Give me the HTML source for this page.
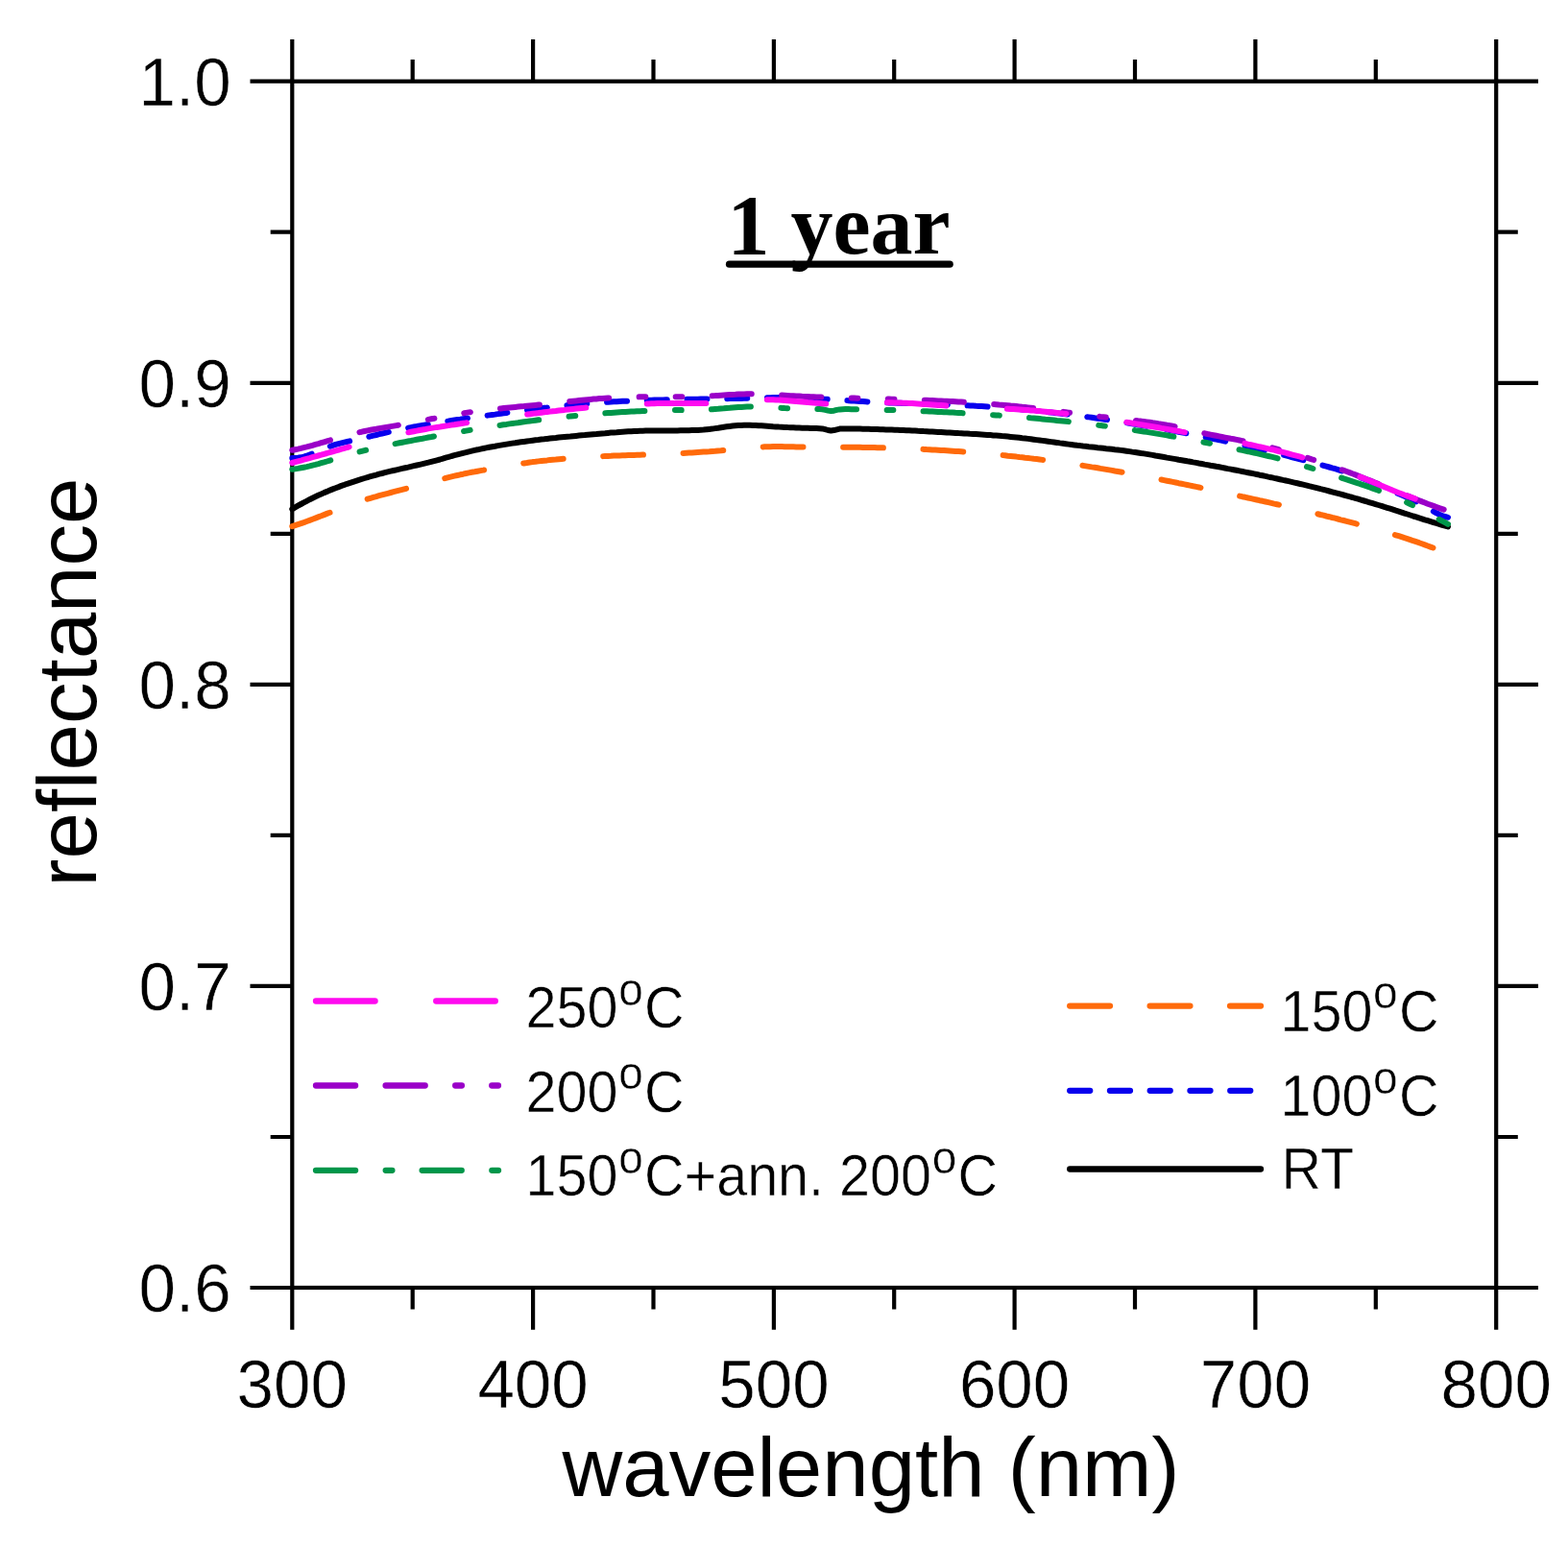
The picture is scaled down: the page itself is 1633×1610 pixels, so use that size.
<!DOCTYPE html>
<html lang="en">
<head>
<meta charset="utf-8">
<title>Reflectance vs wavelength - 1 year</title>
<style>
html,body{margin:0;padding:0;background:#ffffff;}
body{width:1633px;height:1610px;overflow:hidden;}
svg{display:block;}
</style>
</head>
<body>
<svg width="1633" height="1610" viewBox="0 0 1633 1610">
<rect x="0" y="0" width="1633" height="1610" fill="#ffffff"/>
<g stroke="#000" stroke-width="4.2" fill="none" stroke-linecap="butt">
<rect x="304.3" y="84.7" width="1253.9" height="1256.3"/>
<path d="M304.3,40.9 V84.7 M304.3,1341.0 V1384.8"/>
<path d="M555.1,40.9 V84.7 M555.1,1341.0 V1384.8"/>
<path d="M805.9,40.9 V84.7 M805.9,1341.0 V1384.8"/>
<path d="M1056.6,40.9 V84.7 M1056.6,1341.0 V1384.8"/>
<path d="M1307.4,40.9 V84.7 M1307.4,1341.0 V1384.8"/>
<path d="M1558.2,40.9 V84.7 M1558.2,1341.0 V1384.8"/>
<path d="M429.7,62.1 V84.7 M429.7,1341.0 V1363.6"/>
<path d="M680.5,62.1 V84.7 M680.5,1341.0 V1363.6"/>
<path d="M931.2,62.1 V84.7 M931.2,1341.0 V1363.6"/>
<path d="M1182.0,62.1 V84.7 M1182.0,1341.0 V1363.6"/>
<path d="M1432.8,62.1 V84.7 M1432.8,1341.0 V1363.6"/>
<path d="M260.5,84.7 H304.3 M1558.2,84.7 H1602.0"/>
<path d="M260.5,398.8 H304.3 M1558.2,398.8 H1602.0"/>
<path d="M260.5,712.9 H304.3 M1558.2,712.9 H1602.0"/>
<path d="M260.5,1026.9 H304.3 M1558.2,1026.9 H1602.0"/>
<path d="M260.5,1341.0 H304.3 M1558.2,1341.0 H1602.0"/>
<path d="M281.7,241.7 H304.3 M1558.2,241.7 H1580.8"/>
<path d="M281.7,555.8 H304.3 M1558.2,555.8 H1580.8"/>
<path d="M281.7,869.9 H304.3 M1558.2,869.9 H1580.8"/>
<path d="M281.7,1184.0 H304.3 M1558.2,1184.0 H1580.8"/>
</g>
<g fill="none" stroke-width="6.0" stroke-linecap="round" stroke-linejoin="round">
<path d="M304.3,530.2 L307.3,528.4 L310.3,526.7 L313.4,525.0 L316.4,523.4 L319.4,521.8 L322.4,520.2 L325.4,518.7 L328.4,517.3 L331.5,515.8 L334.5,514.5 L337.5,513.1 L340.5,511.9 L343.5,510.6 L346.5,509.4 L349.6,508.2 L352.6,507.1 L355.6,505.9 L358.6,504.9 L361.6,503.8 L364.6,502.8 L367.7,501.8 L370.7,500.8 L373.7,499.8 L376.7,498.9 L379.7,498.0 L382.7,497.1 L385.8,496.2 L388.8,495.4 L391.8,494.6 L394.8,493.7 L397.8,493.0 L400.8,492.2 L403.9,491.4 L406.9,490.7 L409.9,490.0 L412.9,489.3 L415.9,488.6 L418.9,487.9 L422.0,487.2 L425.0,486.6 L428.0,485.9 L431.0,485.2 L434.0,484.5 L437.0,483.8 L440.1,483.1 L443.1,482.4 L446.1,481.7 L449.1,480.9 L452.1,480.1 L455.1,479.3 L458.2,478.5 L461.2,477.6 L464.2,476.7 L467.2,475.9 L470.2,475.0 L473.2,474.2 L476.3,473.4 L479.3,472.6 L482.3,471.8 L485.3,471.1 L488.3,470.3 L491.3,469.6 L494.4,468.9 L497.4,468.3 L500.4,467.6 L503.4,467.0 L506.4,466.4 L509.4,465.8 L512.5,465.2 L515.5,464.7 L518.5,464.1 L521.5,463.6 L524.5,463.1 L527.6,462.6 L530.6,462.1 L533.6,461.6 L536.6,461.2 L539.6,460.7 L542.6,460.3 L545.7,459.9 L548.7,459.5 L551.7,459.1 L554.7,458.7 L557.7,458.3 L560.7,458.0 L563.8,457.6 L566.8,457.3 L569.8,456.9 L572.8,456.6 L575.8,456.3 L578.8,456.0 L581.9,455.6 L584.9,455.3 L587.9,455.0 L590.9,454.7 L593.9,454.5 L596.9,454.2 L600.0,453.9 L603.0,453.6 L606.0,453.3 L609.0,453.1 L612.0,452.8 L615.0,452.5 L618.1,452.2 L621.1,452.0 L624.1,451.7 L627.1,451.4 L630.1,451.2 L633.1,450.9 L636.2,450.6 L639.2,450.4 L642.2,450.2 L645.2,449.9 L648.2,449.7 L651.2,449.5 L654.3,449.3 L657.3,449.2 L660.3,449.0 L663.3,448.9 L666.3,448.8 L669.3,448.7 L672.4,448.6 L675.4,448.5 L678.4,448.5 L681.4,448.5 L684.4,448.4 L687.4,448.4 L690.5,448.4 L693.5,448.4 L696.5,448.4 L699.5,448.4 L702.5,448.4 L705.5,448.4 L708.6,448.3 L711.6,448.3 L714.6,448.3 L717.6,448.2 L720.6,448.1 L723.6,448.0 L726.7,447.9 L729.7,447.7 L732.7,447.5 L735.7,447.2 L738.7,446.9 L741.8,446.6 L744.8,446.1 L747.8,445.7 L750.8,445.2 L753.8,444.7 L756.8,444.3 L759.9,443.9 L762.9,443.5 L765.9,443.2 L768.9,443.0 L771.9,442.9 L774.9,442.8 L778.0,442.8 L781.0,442.8 L784.0,442.9 L787.0,443.0 L790.0,443.2 L793.0,443.3 L796.1,443.5 L799.1,443.7 L802.1,443.9 L805.1,444.2 L808.1,444.4 L811.1,444.6 L814.2,444.7 L817.2,444.9 L820.2,445.1 L823.2,445.2 L826.2,445.3 L829.2,445.5 L832.3,445.6 L835.3,445.7 L838.3,445.8 L841.3,445.8 L844.3,445.9 L847.3,446.0 L850.4,446.1 L853.4,446.2 L856.4,446.4 L859.4,447.1 L862.4,448.0 L865.4,448.5 L868.5,448.1 L871.5,447.3 L874.5,446.6 L877.5,446.4 L880.5,446.4 L883.5,446.4 L886.6,446.5 L889.6,446.5 L892.6,446.6 L895.6,446.6 L898.6,446.7 L901.6,446.7 L904.7,446.8 L907.7,446.9 L910.7,447.0 L913.7,447.1 L916.7,447.2 L919.7,447.3 L922.8,447.4 L925.8,447.5 L928.8,447.6 L931.8,447.7 L934.8,447.8 L937.8,448.0 L940.9,448.1 L943.9,448.2 L946.9,448.3 L949.9,448.5 L952.9,448.6 L956.0,448.8 L959.0,448.9 L962.0,449.1 L965.0,449.2 L968.0,449.4 L971.0,449.5 L974.1,449.7 L977.1,449.9 L980.1,450.0 L983.1,450.2 L986.1,450.4 L989.1,450.5 L992.2,450.7 L995.2,450.9 L998.2,451.1 L1001.2,451.2 L1004.2,451.4 L1007.2,451.6 L1010.3,451.8 L1013.3,451.9 L1016.3,452.1 L1019.3,452.3 L1022.3,452.5 L1025.3,452.7 L1028.4,452.9 L1031.4,453.1 L1034.4,453.4 L1037.4,453.6 L1040.4,453.8 L1043.4,454.1 L1046.5,454.3 L1049.5,454.6 L1052.5,454.9 L1055.5,455.2 L1058.5,455.5 L1061.5,455.8 L1064.6,456.2 L1067.6,456.5 L1070.6,456.9 L1073.6,457.3 L1076.6,457.7 L1079.6,458.1 L1082.7,458.5 L1085.7,458.9 L1088.7,459.3 L1091.7,459.7 L1094.7,460.1 L1097.7,460.5 L1100.8,460.9 L1103.8,461.4 L1106.8,461.8 L1109.8,462.2 L1112.8,462.6 L1115.8,463.0 L1118.9,463.4 L1121.9,463.8 L1124.9,464.1 L1127.9,464.5 L1130.9,464.8 L1133.9,465.2 L1137.0,465.5 L1140.0,465.8 L1143.0,466.2 L1146.0,466.5 L1149.0,466.8 L1152.0,467.2 L1155.1,467.5 L1158.1,467.8 L1161.1,468.2 L1164.1,468.5 L1167.1,468.9 L1170.2,469.3 L1173.2,469.7 L1176.2,470.1 L1179.2,470.6 L1182.2,471.0 L1185.2,471.5 L1188.3,472.0 L1191.3,472.4 L1194.3,472.9 L1197.3,473.4 L1200.3,473.9 L1203.3,474.5 L1206.4,475.0 L1209.4,475.5 L1212.4,476.0 L1215.4,476.6 L1218.4,477.1 L1221.4,477.6 L1224.5,478.1 L1227.5,478.7 L1230.5,479.2 L1233.5,479.7 L1236.5,480.3 L1239.5,480.8 L1242.6,481.4 L1245.6,481.9 L1248.6,482.5 L1251.6,483.0 L1254.6,483.6 L1257.6,484.1 L1260.7,484.7 L1263.7,485.2 L1266.7,485.8 L1269.7,486.3 L1272.7,486.9 L1275.7,487.5 L1278.8,488.1 L1281.8,488.6 L1284.8,489.2 L1287.8,489.8 L1290.8,490.4 L1293.8,491.0 L1296.9,491.6 L1299.9,492.2 L1302.9,492.8 L1305.9,493.4 L1308.9,494.0 L1311.9,494.7 L1315.0,495.3 L1318.0,495.9 L1321.0,496.6 L1324.0,497.2 L1327.0,497.9 L1330.0,498.5 L1333.1,499.2 L1336.1,499.9 L1339.1,500.5 L1342.1,501.2 L1345.1,501.9 L1348.1,502.6 L1351.2,503.3 L1354.2,504.0 L1357.2,504.7 L1360.2,505.4 L1363.2,506.2 L1366.2,506.9 L1369.3,507.6 L1372.3,508.4 L1375.3,509.2 L1378.3,509.9 L1381.3,510.7 L1384.4,511.5 L1387.4,512.3 L1390.4,513.1 L1393.4,513.9 L1396.4,514.7 L1399.4,515.5 L1402.5,516.3 L1405.5,517.2 L1408.5,518.0 L1411.5,518.9 L1414.5,519.7 L1417.5,520.6 L1420.6,521.5 L1423.6,522.4 L1426.6,523.3 L1429.6,524.2 L1432.6,525.1 L1435.6,526.0 L1438.7,526.9 L1441.7,527.9 L1444.7,528.8 L1447.7,529.7 L1450.7,530.7 L1453.7,531.7 L1456.8,532.6 L1459.8,533.6 L1462.8,534.6 L1465.8,535.5 L1468.8,536.5 L1471.8,537.5 L1474.9,538.4 L1477.9,539.4 L1480.9,540.3 L1483.9,541.3 L1486.9,542.2 L1489.9,543.1 L1493.0,544.1 L1496.0,545.0 L1499.0,545.9 L1502.0,546.8 L1505.0,547.6 L1508.0,548.5" stroke="#000000"/>
<path d="M304.3,477.0 L307.3,477.1 L310.3,476.8 L313.4,476.3 L316.4,475.6 L319.4,474.7 L322.4,473.6 L325.4,472.4 L328.4,471.1 L331.5,469.8 L334.5,468.5 L337.5,467.2 L340.5,466.0 L343.5,464.9 L346.5,463.9 L349.6,462.9 L352.6,462.1 L355.6,461.4 L358.6,460.7 L361.6,460.0 L364.6,459.3 L367.7,458.6 L370.7,458.0 L373.7,457.3 L376.7,456.6 L379.7,455.8 L382.7,455.1 L385.8,454.4 L388.8,453.7 L391.8,453.0 L394.8,452.2 L397.8,451.5 L400.8,450.8 L403.9,450.1 L406.9,449.5 L409.9,448.8 L412.9,448.1 L415.9,447.5 L418.9,446.9 L422.0,446.3 L425.0,445.7 L428.0,445.1 L431.0,444.5 L434.0,444.0 L437.0,443.4 L440.1,442.9 L443.1,442.4 L446.1,441.9 L449.1,441.3 L452.1,440.8 L455.1,440.4 L458.2,439.9 L461.2,439.4 L464.2,438.9 L467.2,438.5 L470.2,438.0 L473.2,437.5 L476.3,437.1 L479.3,436.7 L482.3,436.2 L485.3,435.8 L488.3,435.4 L491.3,434.9 L494.4,434.5 L497.4,434.1 L500.4,433.7 L503.4,433.2 L506.4,432.8 L509.4,432.4 L512.5,432.0 L515.5,431.6 L518.5,431.1 L521.5,430.7 L524.5,430.3 L527.6,429.9 L530.6,429.5 L533.6,429.1 L536.6,428.7 L539.6,428.3 L542.6,427.9 L545.7,427.5 L548.7,427.1 L551.7,426.7 L554.7,426.3 L557.7,425.9 L560.7,425.5 L563.8,425.2 L566.8,424.8 L569.8,424.5 L572.8,424.1 L575.8,423.8 L578.8,423.4 L581.9,423.1 L584.9,422.8 L587.9,422.4 L590.9,422.1 L593.9,421.8 L596.9,421.5 L600.0,421.2 L603.0,421.0 L606.0,420.7 L609.0,420.4 L612.0,420.2 L615.0,419.9 L618.1,419.7 L621.1,419.5 L624.1,419.3 L627.1,419.1 L630.1,418.9 L633.1,418.7 L636.2,418.5 L639.2,418.3 L642.2,418.2 L645.2,418.0 L648.2,417.8 L651.2,417.7 L654.3,417.6 L657.3,417.4 L660.3,417.3 L663.3,417.2 L666.3,417.1 L669.3,417.0 L672.4,416.9 L675.4,416.8 L678.4,416.7 L681.4,416.6 L684.4,416.5 L687.4,416.4 L690.5,416.4 L693.5,416.3 L696.5,416.2 L699.5,416.2 L702.5,416.1 L705.5,416.0 L708.6,416.0 L711.6,415.9 L714.6,415.9 L717.6,415.8 L720.6,415.8 L723.6,415.7 L726.7,415.7 L729.7,415.6 L732.7,415.6 L735.7,415.5 L738.7,415.5 L741.8,415.4 L744.8,415.4 L747.8,415.3 L750.8,415.3 L753.8,415.2 L756.8,415.2 L759.9,415.1 L762.9,415.1 L765.9,415.0 L768.9,414.9 L771.9,414.9 L774.9,414.8 L778.0,414.7 L781.0,414.7 L784.0,414.6 L787.0,414.5 L790.0,414.4 L793.0,414.4 L796.1,414.3 L799.1,414.2 L802.1,414.2 L805.1,414.1 L808.1,414.1 L811.1,414.1 L814.2,414.1 L817.2,414.1 L820.2,414.1 L823.2,414.2 L826.2,414.2 L829.2,414.3 L832.3,414.4 L835.3,414.5 L838.3,414.6 L841.3,414.7 L844.3,414.9 L847.3,415.0 L850.4,415.2 L853.4,415.3 L856.4,415.5 L859.4,415.7 L862.4,415.9 L865.4,416.0 L868.5,416.2 L871.5,416.4 L874.5,416.6 L877.5,416.8 L880.5,417.0 L883.5,417.2 L886.6,417.4 L889.6,417.6 L892.6,417.8 L895.6,417.9 L898.6,418.1 L901.6,418.3 L904.7,418.5 L907.7,418.6 L910.7,418.8 L913.7,418.9 L916.7,419.0 L919.7,419.2 L922.8,419.3 L925.8,419.4 L928.8,419.5 L931.8,419.6 L934.8,419.7 L937.8,419.8 L940.9,419.9 L943.9,420.0 L946.9,420.1 L949.9,420.2 L952.9,420.3 L956.0,420.4 L959.0,420.5 L962.0,420.6 L965.0,420.7 L968.0,420.7 L971.0,420.8 L974.1,420.9 L977.1,421.0 L980.1,421.1 L983.1,421.2 L986.1,421.3 L989.1,421.5 L992.2,421.6 L995.2,421.7 L998.2,421.8 L1001.2,422.0 L1004.2,422.1 L1007.2,422.3 L1010.3,422.4 L1013.3,422.6 L1016.3,422.8 L1019.3,422.9 L1022.3,423.1 L1025.3,423.3 L1028.4,423.5 L1031.4,423.7 L1034.4,423.9 L1037.4,424.1 L1040.4,424.4 L1043.4,424.6 L1046.5,424.8 L1049.5,425.1 L1052.5,425.3 L1055.5,425.6 L1058.5,425.9 L1061.5,426.1 L1064.6,426.4 L1067.6,426.7 L1070.6,427.0 L1073.6,427.3 L1076.6,427.6 L1079.6,427.9 L1082.7,428.2 L1085.7,428.5 L1088.7,428.8 L1091.7,429.2 L1094.7,429.5 L1097.7,429.9 L1100.8,430.2 L1103.8,430.6 L1106.8,430.9 L1109.8,431.3 L1112.8,431.7 L1115.8,432.0 L1118.9,432.4 L1121.9,432.8 L1124.9,433.2 L1127.9,433.6 L1130.9,434.0 L1133.9,434.4 L1137.0,434.8 L1140.0,435.3 L1143.0,435.7 L1146.0,436.1 L1149.0,436.5 L1152.0,437.0 L1155.1,437.4 L1158.1,437.9 L1161.1,438.3 L1164.1,438.8 L1167.1,439.3 L1170.2,439.7 L1173.2,440.2 L1176.2,440.7 L1179.2,441.2 L1182.2,441.7 L1185.2,442.2 L1188.3,442.7 L1191.3,443.2 L1194.3,443.7 L1197.3,444.2 L1200.3,444.7 L1203.3,445.3 L1206.4,445.8 L1209.4,446.4 L1212.4,446.9 L1215.4,447.4 L1218.4,448.0 L1221.4,448.6 L1224.5,449.1 L1227.5,449.7 L1230.5,450.3 L1233.5,450.9 L1236.5,451.4 L1239.5,452.0 L1242.6,452.6 L1245.6,453.2 L1248.6,453.8 L1251.6,454.5 L1254.6,455.1 L1257.6,455.7 L1260.7,456.3 L1263.7,457.0 L1266.7,457.6 L1269.7,458.2 L1272.7,458.9 L1275.7,459.5 L1278.8,460.2 L1281.8,460.9 L1284.8,461.5 L1287.8,462.2 L1290.8,462.9 L1293.8,463.6 L1296.9,464.3 L1299.9,464.9 L1302.9,465.6 L1305.9,466.4 L1308.9,467.1 L1311.9,467.8 L1315.0,468.5 L1318.0,469.2 L1321.0,470.0 L1324.0,470.7 L1327.0,471.4 L1330.0,472.2 L1333.1,472.9 L1336.1,473.7 L1339.1,474.4 L1342.1,475.2 L1345.1,476.0 L1348.1,476.8 L1351.2,477.5 L1354.2,478.3 L1357.2,479.1 L1360.2,479.9 L1363.2,480.7 L1366.2,481.5 L1369.3,482.3 L1372.3,483.2 L1375.3,484.0 L1378.3,484.8 L1381.3,485.6 L1384.4,486.5 L1387.4,487.4 L1390.4,488.2 L1393.4,489.1 L1396.4,490.1 L1399.4,491.0 L1402.5,492.0 L1405.5,493.0 L1408.5,494.1 L1411.5,495.2 L1414.5,496.3 L1417.5,497.5 L1420.6,498.7 L1423.6,499.9 L1426.6,501.2 L1429.6,502.5 L1432.6,503.8 L1435.6,505.1 L1438.7,506.4 L1441.7,507.8 L1444.7,509.1 L1447.7,510.4 L1450.7,511.7 L1453.7,513.0 L1456.8,514.3 L1459.8,515.5 L1462.8,516.8 L1465.8,518.2 L1468.8,519.5 L1471.8,521.0 L1474.9,522.5 L1477.9,524.1 L1480.9,525.8 L1483.9,527.5 L1486.9,529.3 L1489.9,531.0 L1493.0,532.7 L1496.0,534.3 L1499.0,535.7 L1502.0,537.0 L1505.0,538.0 L1508.0,538.8" stroke="#0800ee" stroke-dasharray="21.0 20.76"/>
<path d="M304.3,548.2 L307.3,547.2 L310.3,546.2 L313.4,545.1 L316.4,544.1 L319.4,543.0 L322.4,541.9 L325.4,540.7 L328.4,539.6 L331.5,538.4 L334.5,537.3 L337.5,536.1 L340.5,534.9 L343.5,533.8 L346.5,532.6 L349.6,531.5 L352.6,530.3 L355.6,529.2 L358.6,528.0 L361.6,526.9 L364.6,525.8 L367.7,524.8 L370.7,523.7 L373.7,522.7 L376.7,521.7 L379.7,520.7 L382.7,519.7 L385.8,518.8 L388.8,517.9 L391.8,517.1 L394.8,516.2 L397.8,515.4 L400.8,514.6 L403.9,513.8 L406.9,513.0 L409.9,512.2 L412.9,511.4 L415.9,510.6 L418.9,509.9 L422.0,509.1 L425.0,508.3 L428.0,507.5 L431.0,506.7 L434.0,505.9 L437.0,505.1 L440.1,504.3 L443.1,503.5 L446.1,502.6 L449.1,501.8 L452.1,501.0 L455.1,500.2 L458.2,499.4 L461.2,498.7 L464.2,497.9 L467.2,497.1 L470.2,496.4 L473.2,495.7 L476.3,495.0 L479.3,494.3 L482.3,493.7 L485.3,493.0 L488.3,492.4 L491.3,491.8 L494.4,491.3 L497.4,490.7 L500.4,490.1 L503.4,489.6 L506.4,489.0 L509.4,488.5 L512.5,487.9 L515.5,487.4 L518.5,486.9 L521.5,486.3 L524.5,485.8 L527.6,485.3 L530.6,484.8 L533.6,484.3 L536.6,483.8 L539.6,483.3 L542.6,482.8 L545.7,482.4 L548.7,482.0 L551.7,481.5 L554.7,481.1 L557.7,480.8 L560.7,480.4 L563.8,480.0 L566.8,479.7 L569.8,479.4 L572.8,479.0 L575.8,478.7 L578.8,478.5 L581.9,478.2 L584.9,477.9 L587.9,477.6 L590.9,477.4 L593.9,477.2 L596.9,476.9 L600.0,476.7 L603.0,476.5 L606.0,476.3 L609.0,476.1 L612.0,476.0 L615.0,475.8 L618.1,475.6 L621.1,475.5 L624.1,475.3 L627.1,475.2 L630.1,475.0 L633.1,474.9 L636.2,474.8 L639.2,474.6 L642.2,474.5 L645.2,474.4 L648.2,474.3 L651.2,474.2 L654.3,474.1 L657.3,474.0 L660.3,473.9 L663.3,473.8 L666.3,473.7 L669.3,473.6 L672.4,473.5 L675.4,473.4 L678.4,473.3 L681.4,473.1 L684.4,473.0 L687.4,472.9 L690.5,472.8 L693.5,472.7 L696.5,472.6 L699.5,472.4 L702.5,472.3 L705.5,472.2 L708.6,472.0 L711.6,471.9 L714.6,471.7 L717.6,471.5 L720.6,471.4 L723.6,471.2 L726.7,471.0 L729.7,470.8 L732.7,470.6 L735.7,470.4 L738.7,470.2 L741.8,469.9 L744.8,469.7 L747.8,469.4 L750.8,469.2 L753.8,468.9 L756.8,468.6 L759.9,468.3 L762.9,468.0 L765.9,467.7 L768.9,467.4 L771.9,467.1 L774.9,466.8 L778.0,466.5 L781.0,466.3 L784.0,466.0 L787.0,465.8 L790.0,465.6 L793.0,465.5 L796.1,465.3 L799.1,465.2 L802.1,465.2 L805.1,465.1 L808.1,465.1 L811.1,465.1 L814.2,465.1 L817.2,465.2 L820.2,465.2 L823.2,465.2 L826.2,465.3 L829.2,465.4 L832.3,465.4 L835.3,465.5 L838.3,465.5 L841.3,465.6 L844.3,465.6 L847.3,465.6 L850.4,465.6 L853.4,465.6 L856.4,465.6 L859.4,465.6 L862.4,465.6 L865.4,465.6 L868.5,465.6 L871.5,465.7 L874.5,465.7 L877.5,465.7 L880.5,465.7 L883.5,465.7 L886.6,465.7 L889.6,465.8 L892.6,465.8 L895.6,465.8 L898.6,465.9 L901.6,465.9 L904.7,466.0 L907.7,466.0 L910.7,466.1 L913.7,466.2 L916.7,466.2 L919.7,466.3 L922.8,466.4 L925.8,466.5 L928.8,466.6 L931.8,466.7 L934.8,466.8 L937.8,466.9 L940.9,467.0 L943.9,467.1 L946.9,467.2 L949.9,467.3 L952.9,467.5 L956.0,467.6 L959.0,467.7 L962.0,467.9 L965.0,468.1 L968.0,468.2 L971.0,468.4 L974.1,468.5 L977.1,468.7 L980.1,468.9 L983.1,469.1 L986.1,469.3 L989.1,469.5 L992.2,469.7 L995.2,469.9 L998.2,470.1 L1001.2,470.3 L1004.2,470.6 L1007.2,470.8 L1010.3,471.0 L1013.3,471.3 L1016.3,471.5 L1019.3,471.8 L1022.3,472.0 L1025.3,472.3 L1028.4,472.6 L1031.4,472.9 L1034.4,473.2 L1037.4,473.4 L1040.4,473.7 L1043.4,474.0 L1046.5,474.3 L1049.5,474.7 L1052.5,475.0 L1055.5,475.3 L1058.5,475.6 L1061.5,476.0 L1064.6,476.3 L1067.6,476.7 L1070.6,477.0 L1073.6,477.4 L1076.6,477.8 L1079.6,478.1 L1082.7,478.5 L1085.7,478.9 L1088.7,479.3 L1091.7,479.7 L1094.7,480.1 L1097.7,480.5 L1100.8,480.9 L1103.8,481.3 L1106.8,481.8 L1109.8,482.2 L1112.8,482.6 L1115.8,483.1 L1118.9,483.5 L1121.9,484.0 L1124.9,484.4 L1127.9,484.9 L1130.9,485.4 L1133.9,485.9 L1137.0,486.4 L1140.0,486.8 L1143.0,487.3 L1146.0,487.9 L1149.0,488.4 L1152.0,488.9 L1155.1,489.4 L1158.1,489.9 L1161.1,490.5 L1164.1,491.0 L1167.1,491.5 L1170.2,492.1 L1173.2,492.6 L1176.2,493.2 L1179.2,493.7 L1182.2,494.3 L1185.2,494.9 L1188.3,495.4 L1191.3,496.0 L1194.3,496.6 L1197.3,497.2 L1200.3,497.7 L1203.3,498.3 L1206.4,498.9 L1209.4,499.5 L1212.4,500.1 L1215.4,500.7 L1218.4,501.3 L1221.4,501.9 L1224.5,502.5 L1227.5,503.2 L1230.5,503.8 L1233.5,504.4 L1236.5,505.0 L1239.5,505.6 L1242.6,506.3 L1245.6,506.9 L1248.6,507.5 L1251.6,508.1 L1254.6,508.8 L1257.6,509.4 L1260.7,510.0 L1263.7,510.7 L1266.7,511.3 L1269.7,512.0 L1272.7,512.6 L1275.7,513.2 L1278.8,513.9 L1281.8,514.5 L1284.8,515.2 L1287.8,515.8 L1290.8,516.5 L1293.8,517.2 L1296.9,517.8 L1299.9,518.5 L1302.9,519.1 L1305.9,519.8 L1308.9,520.5 L1311.9,521.2 L1315.0,521.8 L1318.0,522.5 L1321.0,523.2 L1324.0,523.9 L1327.0,524.6 L1330.0,525.2 L1333.1,525.9 L1336.1,526.6 L1339.1,527.3 L1342.1,528.0 L1345.1,528.7 L1348.1,529.4 L1351.2,530.2 L1354.2,530.9 L1357.2,531.6 L1360.2,532.3 L1363.2,533.0 L1366.2,533.8 L1369.3,534.5 L1372.3,535.2 L1375.3,536.0 L1378.3,536.7 L1381.3,537.5 L1384.4,538.2 L1387.4,539.0 L1390.4,539.7 L1393.4,540.5 L1396.4,541.3 L1399.4,542.0 L1402.5,542.8 L1405.5,543.6 L1408.5,544.4 L1411.5,545.2 L1414.5,546.0 L1417.5,546.8 L1420.6,547.6 L1423.6,548.5 L1426.6,549.3 L1429.6,550.1 L1432.6,551.0 L1435.6,551.9 L1438.7,552.7 L1441.7,553.6 L1444.7,554.5 L1447.7,555.4 L1450.7,556.4 L1453.7,557.3 L1456.8,558.2 L1459.8,559.2 L1462.8,560.2 L1465.8,561.1 L1468.8,562.1 L1471.8,563.2 L1474.9,564.2 L1477.9,565.2 L1480.9,566.3 L1483.9,567.4 L1486.9,568.5 L1489.9,569.6 L1493.0,570.7 L1496.0,571.8 L1499.0,573.0 L1502.0,574.2 L1505.0,575.4 L1508.0,576.6" stroke="#ff6a0a" stroke-dasharray="41.8 41.62"/>
<path d="M304.3,488.8 L307.3,488.4 L310.3,487.9 L313.4,487.3 L316.4,486.7 L319.4,486.1 L322.4,485.4 L325.4,484.6 L328.4,483.9 L331.5,483.1 L334.5,482.2 L337.5,481.4 L340.5,480.5 L343.5,479.6 L346.5,478.7 L349.6,477.8 L352.6,476.9 L355.6,476.0 L358.6,475.1 L361.6,474.2 L364.6,473.3 L367.7,472.4 L370.7,471.5 L373.7,470.7 L376.7,469.9 L379.7,469.1 L382.7,468.4 L385.8,467.6 L388.8,466.9 L391.8,466.3 L394.8,465.6 L397.8,465.0 L400.8,464.3 L403.9,463.7 L406.9,463.1 L409.9,462.5 L412.9,461.9 L415.9,461.3 L418.9,460.7 L422.0,460.1 L425.0,459.5 L428.0,459.0 L431.0,458.4 L434.0,457.8 L437.0,457.2 L440.1,456.7 L443.1,456.1 L446.1,455.5 L449.1,455.0 L452.1,454.4 L455.1,453.9 L458.2,453.3 L461.2,452.8 L464.2,452.2 L467.2,451.7 L470.2,451.2 L473.2,450.6 L476.3,450.1 L479.3,449.6 L482.3,449.1 L485.3,448.6 L488.3,448.1 L491.3,447.6 L494.4,447.1 L497.4,446.6 L500.4,446.1 L503.4,445.6 L506.4,445.1 L509.4,444.6 L512.5,444.2 L515.5,443.7 L518.5,443.2 L521.5,442.8 L524.5,442.3 L527.6,441.9 L530.6,441.4 L533.6,441.0 L536.6,440.6 L539.6,440.2 L542.6,439.7 L545.7,439.3 L548.7,438.9 L551.7,438.5 L554.7,438.1 L557.7,437.7 L560.7,437.3 L563.8,437.0 L566.8,436.6 L569.8,436.2 L572.8,435.9 L575.8,435.5 L578.8,435.2 L581.9,434.8 L584.9,434.5 L587.9,434.2 L590.9,433.8 L593.9,433.5 L596.9,433.2 L600.0,432.9 L603.0,432.6 L606.0,432.3 L609.0,432.1 L612.0,431.8 L615.0,431.5 L618.1,431.3 L621.1,431.0 L624.1,430.8 L627.1,430.5 L630.1,430.3 L633.1,430.1 L636.2,429.9 L639.2,429.7 L642.2,429.5 L645.2,429.3 L648.2,429.1 L651.2,429.0 L654.3,428.8 L657.3,428.6 L660.3,428.5 L663.3,428.3 L666.3,428.2 L669.3,428.1 L672.4,428.0 L675.4,427.8 L678.4,427.7 L681.4,427.6 L684.4,427.5 L687.4,427.5 L690.5,427.4 L693.5,427.3 L696.5,427.3 L699.5,427.2 L702.5,427.1 L705.5,427.1 L708.6,427.1 L711.6,427.0 L714.6,427.0 L717.6,427.0 L720.6,426.9 L723.6,426.9 L726.7,426.8 L729.7,426.8 L732.7,426.7 L735.7,426.5 L738.7,426.4 L741.8,426.2 L744.8,426.0 L747.8,425.8 L750.8,425.5 L753.8,425.3 L756.8,425.0 L759.9,424.8 L762.9,424.5 L765.9,424.3 L768.9,424.1 L771.9,423.9 L774.9,423.7 L778.0,423.6 L781.0,423.5 L784.0,423.4 L787.0,423.4 L790.0,423.5 L793.0,423.6 L796.1,423.7 L799.1,423.9 L802.1,424.1 L805.1,424.3 L808.1,424.5 L811.1,424.7 L814.2,424.9 L817.2,425.1 L820.2,425.2 L823.2,425.4 L826.2,425.5 L829.2,425.6 L832.3,425.7 L835.3,425.8 L838.3,425.9 L841.3,425.9 L844.3,425.9 L847.3,426.0 L850.4,426.0 L853.4,426.1 L856.4,426.3 L859.4,426.9 L862.4,427.6 L865.4,428.1 L868.5,427.7 L871.5,426.9 L874.5,426.4 L877.5,426.2 L880.5,426.1 L883.5,426.1 L886.6,426.2 L889.6,426.2 L892.6,426.2 L895.6,426.3 L898.6,426.3 L901.6,426.4 L904.7,426.4 L907.7,426.5 L910.7,426.6 L913.7,426.6 L916.7,426.7 L919.7,426.8 L922.8,426.9 L925.8,427.0 L928.8,427.1 L931.8,427.1 L934.8,427.2 L937.8,427.3 L940.9,427.4 L943.9,427.5 L946.9,427.6 L949.9,427.8 L952.9,427.9 L956.0,428.0 L959.0,428.1 L962.0,428.2 L965.0,428.3 L968.0,428.5 L971.0,428.6 L974.1,428.7 L977.1,428.9 L980.1,429.0 L983.1,429.2 L986.1,429.3 L989.1,429.5 L992.2,429.6 L995.2,429.8 L998.2,429.9 L1001.2,430.1 L1004.2,430.3 L1007.2,430.4 L1010.3,430.6 L1013.3,430.8 L1016.3,431.0 L1019.3,431.2 L1022.3,431.4 L1025.3,431.6 L1028.4,431.8 L1031.4,432.0 L1034.4,432.2 L1037.4,432.4 L1040.4,432.6 L1043.4,432.8 L1046.5,433.0 L1049.5,433.3 L1052.5,433.5 L1055.5,433.7 L1058.5,434.0 L1061.5,434.2 L1064.6,434.5 L1067.6,434.7 L1070.6,435.0 L1073.6,435.3 L1076.6,435.5 L1079.6,435.8 L1082.7,436.1 L1085.7,436.4 L1088.7,436.7 L1091.7,436.9 L1094.7,437.2 L1097.7,437.5 L1100.8,437.9 L1103.8,438.2 L1106.8,438.5 L1109.8,438.8 L1112.8,439.1 L1115.8,439.5 L1118.9,439.8 L1121.9,440.1 L1124.9,440.5 L1127.9,440.8 L1130.9,441.2 L1133.9,441.6 L1137.0,441.9 L1140.0,442.3 L1143.0,442.7 L1146.0,443.1 L1149.0,443.4 L1152.0,443.8 L1155.1,444.2 L1158.1,444.6 L1161.1,445.1 L1164.1,445.5 L1167.1,445.9 L1170.2,446.3 L1173.2,446.8 L1176.2,447.2 L1179.2,447.6 L1182.2,448.1 L1185.2,448.5 L1188.3,449.0 L1191.3,449.5 L1194.3,449.9 L1197.3,450.4 L1200.3,450.9 L1203.3,451.4 L1206.4,451.9 L1209.4,452.4 L1212.4,452.9 L1215.4,453.4 L1218.4,454.0 L1221.4,454.5 L1224.5,455.0 L1227.5,455.6 L1230.5,456.1 L1233.5,456.7 L1236.5,457.2 L1239.5,457.8 L1242.6,458.4 L1245.6,458.9 L1248.6,459.5 L1251.6,460.1 L1254.6,460.7 L1257.6,461.3 L1260.7,461.9 L1263.7,462.6 L1266.7,463.2 L1269.7,463.8 L1272.7,464.4 L1275.7,465.1 L1278.8,465.7 L1281.8,466.4 L1284.8,467.0 L1287.8,467.6 L1290.8,468.3 L1293.8,468.9 L1296.9,469.6 L1299.9,470.2 L1302.9,470.9 L1305.9,471.5 L1308.9,472.2 L1311.9,472.9 L1315.0,473.6 L1318.0,474.3 L1321.0,475.0 L1324.0,475.7 L1327.0,476.4 L1330.0,477.2 L1333.1,478.0 L1336.1,478.8 L1339.1,479.6 L1342.1,480.4 L1345.1,481.3 L1348.1,482.1 L1351.2,483.0 L1354.2,483.9 L1357.2,484.8 L1360.2,485.8 L1363.2,486.7 L1366.2,487.6 L1369.3,488.6 L1372.3,489.5 L1375.3,490.5 L1378.3,491.5 L1381.3,492.5 L1384.4,493.4 L1387.4,494.4 L1390.4,495.4 L1393.4,496.4 L1396.4,497.4 L1399.4,498.4 L1402.5,499.3 L1405.5,500.3 L1408.5,501.3 L1411.5,502.3 L1414.5,503.3 L1417.5,504.4 L1420.6,505.4 L1423.6,506.4 L1426.6,507.5 L1429.6,508.6 L1432.6,509.7 L1435.6,510.8 L1438.7,511.9 L1441.7,513.1 L1444.7,514.3 L1447.7,515.5 L1450.7,516.8 L1453.7,518.1 L1456.8,519.4 L1459.8,520.7 L1462.8,522.1 L1465.8,523.5 L1468.8,525.0 L1471.8,526.5 L1474.9,528.0 L1477.9,529.6 L1480.9,531.2 L1483.9,532.8 L1486.9,534.4 L1489.9,536.1 L1493.0,537.7 L1496.0,539.3 L1499.0,541.0 L1502.0,542.6 L1505.0,544.2 L1508.0,545.8" stroke="#00964a" stroke-dasharray="41.1 31.6 6.7 31.23"/>
<path d="M304.3,468.8 L307.3,468.2 L310.3,467.6 L313.4,466.9 L316.4,466.1 L319.4,465.4 L322.4,464.6 L325.4,463.8 L328.4,462.9 L331.5,462.1 L334.5,461.2 L337.5,460.3 L340.5,459.4 L343.5,458.5 L346.5,457.6 L349.6,456.8 L352.6,455.9 L355.6,455.0 L358.6,454.2 L361.6,453.4 L364.6,452.6 L367.7,451.8 L370.7,451.0 L373.7,450.3 L376.7,449.7 L379.7,449.0 L382.7,448.4 L385.8,447.8 L388.8,447.2 L391.8,446.7 L394.8,446.1 L397.8,445.6 L400.8,445.1 L403.9,444.6 L406.9,444.1 L409.9,443.6 L412.9,443.1 L415.9,442.6 L418.9,442.0 L422.0,441.5 L425.0,440.9 L428.0,440.4 L431.0,439.8 L434.0,439.2 L437.0,438.7 L440.1,438.1 L443.1,437.5 L446.1,436.9 L449.1,436.3 L452.1,435.8 L455.1,435.2 L458.2,434.6 L461.2,434.1 L464.2,433.5 L467.2,432.9 L470.2,432.4 L473.2,431.9 L476.3,431.4 L479.3,430.9 L482.3,430.4 L485.3,429.9 L488.3,429.4 L491.3,429.0 L494.4,428.6 L497.4,428.2 L500.4,427.8 L503.4,427.4 L506.4,427.1 L509.4,426.7 L512.5,426.4 L515.5,426.0 L518.5,425.7 L521.5,425.4 L524.5,425.1 L527.6,424.8 L530.6,424.5 L533.6,424.2 L536.6,423.9 L539.6,423.6 L542.6,423.3 L545.7,423.1 L548.7,422.8 L551.7,422.5 L554.7,422.2 L557.7,421.9 L560.7,421.6 L563.8,421.3 L566.8,421.0 L569.8,420.7 L572.8,420.4 L575.8,420.0 L578.8,419.7 L581.9,419.4 L584.9,419.0 L587.9,418.7 L590.9,418.4 L593.9,418.0 L596.9,417.7 L600.0,417.4 L603.0,417.1 L606.0,416.8 L609.0,416.5 L612.0,416.2 L615.0,415.9 L618.1,415.6 L621.1,415.4 L624.1,415.1 L627.1,414.9 L630.1,414.7 L633.1,414.5 L636.2,414.3 L639.2,414.1 L642.2,414.0 L645.2,413.8 L648.2,413.7 L651.2,413.6 L654.3,413.5 L657.3,413.5 L660.3,413.4 L663.3,413.4 L666.3,413.3 L669.3,413.3 L672.4,413.3 L675.4,413.3 L678.4,413.2 L681.4,413.2 L684.4,413.2 L687.4,413.2 L690.5,413.2 L693.5,413.2 L696.5,413.2 L699.5,413.2 L702.5,413.2 L705.5,413.2 L708.6,413.2 L711.6,413.1 L714.6,413.1 L717.6,413.1 L720.6,413.0 L723.6,412.9 L726.7,412.8 L729.7,412.8 L732.7,412.6 L735.7,412.5 L738.7,412.4 L741.8,412.2 L744.8,412.1 L747.8,411.9 L750.8,411.7 L753.8,411.5 L756.8,411.3 L759.9,411.1 L762.9,410.9 L765.9,410.8 L768.9,410.6 L771.9,410.5 L774.9,410.4 L778.0,410.3 L781.0,410.2 L784.0,410.2 L787.0,410.2 L790.0,410.3 L793.0,410.4 L796.1,410.5 L799.1,410.7 L802.1,410.9 L805.1,411.1 L808.1,411.3 L811.1,411.4 L814.2,411.6 L817.2,411.8 L820.2,412.0 L823.2,412.2 L826.2,412.3 L829.2,412.5 L832.3,412.6 L835.3,412.8 L838.3,412.9 L841.3,413.0 L844.3,413.2 L847.3,413.3 L850.4,413.4 L853.4,413.5 L856.4,413.6 L859.4,413.7 L862.4,413.8 L865.4,413.9 L868.5,414.0 L871.5,414.1 L874.5,414.2 L877.5,414.3 L880.5,414.4 L883.5,414.5 L886.6,414.6 L889.6,414.6 L892.6,414.7 L895.6,414.8 L898.6,414.9 L901.6,414.9 L904.7,415.0 L907.7,415.1 L910.7,415.2 L913.7,415.3 L916.7,415.3 L919.7,415.4 L922.8,415.5 L925.8,415.6 L928.8,415.7 L931.8,415.7 L934.8,415.8 L937.8,415.9 L940.9,416.0 L943.9,416.1 L946.9,416.2 L949.9,416.3 L952.9,416.4 L956.0,416.5 L959.0,416.6 L962.0,416.7 L965.0,416.8 L968.0,417.0 L971.0,417.1 L974.1,417.2 L977.1,417.4 L980.1,417.5 L983.1,417.7 L986.1,417.8 L989.1,418.0 L992.2,418.1 L995.2,418.3 L998.2,418.5 L1001.2,418.6 L1004.2,418.8 L1007.2,419.0 L1010.3,419.2 L1013.3,419.4 L1016.3,419.6 L1019.3,419.8 L1022.3,420.0 L1025.3,420.3 L1028.4,420.5 L1031.4,420.7 L1034.4,421.0 L1037.4,421.2 L1040.4,421.5 L1043.4,421.7 L1046.5,422.0 L1049.5,422.3 L1052.5,422.6 L1055.5,422.8 L1058.5,423.1 L1061.5,423.4 L1064.6,423.8 L1067.6,424.1 L1070.6,424.4 L1073.6,424.7 L1076.6,425.1 L1079.6,425.4 L1082.7,425.8 L1085.7,426.2 L1088.7,426.5 L1091.7,426.9 L1094.7,427.3 L1097.7,427.7 L1100.8,428.1 L1103.8,428.5 L1106.8,428.8 L1109.8,429.2 L1112.8,429.6 L1115.8,430.0 L1118.9,430.4 L1121.9,430.8 L1124.9,431.2 L1127.9,431.6 L1130.9,432.0 L1133.9,432.4 L1137.0,432.8 L1140.0,433.1 L1143.0,433.5 L1146.0,433.9 L1149.0,434.2 L1152.0,434.6 L1155.1,434.9 L1158.1,435.2 L1161.1,435.6 L1164.1,435.9 L1167.1,436.2 L1170.2,436.6 L1173.2,436.9 L1176.2,437.2 L1179.2,437.6 L1182.2,437.9 L1185.2,438.3 L1188.3,438.6 L1191.3,439.0 L1194.3,439.4 L1197.3,439.8 L1200.3,440.3 L1203.3,440.7 L1206.4,441.2 L1209.4,441.6 L1212.4,442.1 L1215.4,442.7 L1218.4,443.2 L1221.4,443.8 L1224.5,444.4 L1227.5,445.1 L1230.5,445.7 L1233.5,446.4 L1236.5,447.1 L1239.5,447.8 L1242.6,448.6 L1245.6,449.3 L1248.6,450.0 L1251.6,450.7 L1254.6,451.3 L1257.6,452.0 L1260.7,452.6 L1263.7,453.2 L1266.7,453.8 L1269.7,454.4 L1272.7,455.0 L1275.7,455.6 L1278.8,456.2 L1281.8,456.8 L1284.8,457.3 L1287.8,457.9 L1290.8,458.5 L1293.8,459.1 L1296.9,459.8 L1299.9,460.4 L1302.9,461.1 L1305.9,461.7 L1308.9,462.4 L1311.9,463.1 L1315.0,463.9 L1318.0,464.6 L1321.0,465.3 L1324.0,466.1 L1327.0,466.9 L1330.0,467.7 L1333.1,468.5 L1336.1,469.3 L1339.1,470.2 L1342.1,471.0 L1345.1,471.9 L1348.1,472.8 L1351.2,473.7 L1354.2,474.6 L1357.2,475.5 L1360.2,476.4 L1363.2,477.4 L1366.2,478.4 L1369.3,479.3 L1372.3,480.3 L1375.3,481.3 L1378.3,482.4 L1381.3,483.4 L1384.4,484.4 L1387.4,485.5 L1390.4,486.6 L1393.4,487.7 L1396.4,488.8 L1399.4,489.9 L1402.5,491.0 L1405.5,492.1 L1408.5,493.3 L1411.5,494.4 L1414.5,495.6 L1417.5,496.8 L1420.6,498.0 L1423.6,499.2 L1426.6,500.4 L1429.6,501.6 L1432.6,502.9 L1435.6,504.1 L1438.7,505.3 L1441.7,506.6 L1444.7,507.8 L1447.7,509.0 L1450.7,510.3 L1453.7,511.5 L1456.8,512.8 L1459.8,514.0 L1462.8,515.2 L1465.8,516.4 L1468.8,517.6 L1471.8,518.8 L1474.9,520.0 L1477.9,521.2 L1480.9,522.4 L1483.9,523.5 L1486.9,524.7 L1489.9,525.8 L1493.0,526.9 L1496.0,528.0 L1499.0,529.1 L1502.0,530.1 L1505.0,531.1 L1508.0,532.1" stroke="#9a00c8" stroke-dasharray="41.1 31.5 41.1 31.5 6.7 31.35 6.7 31.35"/>
<path d="M304.3,482.0 L307.3,481.2 L310.3,480.4 L313.4,479.6 L316.4,478.7 L319.4,477.9 L322.4,477.1 L325.4,476.2 L328.4,475.4 L331.5,474.5 L334.5,473.7 L337.5,472.8 L340.5,472.0 L343.5,471.1 L346.5,470.3 L349.6,469.4 L352.6,468.6 L355.6,467.7 L358.6,466.9 L361.6,466.0 L364.6,465.2 L367.7,464.4 L370.7,463.6 L373.7,462.7 L376.7,461.9 L379.7,461.1 L382.7,460.3 L385.8,459.5 L388.8,458.8 L391.8,458.0 L394.8,457.2 L397.8,456.5 L400.8,455.7 L403.9,455.0 L406.9,454.3 L409.9,453.6 L412.9,452.9 L415.9,452.3 L418.9,451.6 L422.0,451.0 L425.0,450.4 L428.0,449.8 L431.0,449.2 L434.0,448.6 L437.0,448.0 L440.1,447.5 L443.1,447.0 L446.1,446.4 L449.1,445.9 L452.1,445.4 L455.1,444.9 L458.2,444.5 L461.2,444.0 L464.2,443.5 L467.2,443.1 L470.2,442.6 L473.2,442.2 L476.3,441.7 L479.3,441.3 L482.3,440.8 L485.3,440.4 L488.3,440.0 L491.3,439.5 L494.4,439.1 L497.4,438.7 L500.4,438.2 L503.4,437.8 L506.4,437.4 L509.4,437.0 L512.5,436.5 L515.5,436.1 L518.5,435.7 L521.5,435.3 L524.5,434.8 L527.6,434.4 L530.6,434.0 L533.6,433.6 L536.6,433.2 L539.6,432.8 L542.6,432.4 L545.7,432.0 L548.7,431.6 L551.7,431.2 L554.7,430.8 L557.7,430.4 L560.7,430.1 L563.8,429.7 L566.8,429.3 L569.8,428.9 L572.8,428.6 L575.8,428.2 L578.8,427.9 L581.9,427.5 L584.9,427.2 L587.9,426.9 L590.9,426.5 L593.9,426.2 L596.9,425.9 L600.0,425.6 L603.0,425.3 L606.0,425.0 L609.0,424.7 L612.0,424.4 L615.0,424.2 L618.1,423.9 L621.1,423.6 L624.1,423.4 L627.1,423.1 L630.1,422.9 L633.1,422.7 L636.2,422.5 L639.2,422.2 L642.2,422.0 L645.2,421.8 L648.2,421.7 L651.2,421.5 L654.3,421.3 L657.3,421.2 L660.3,421.0 L663.3,420.9 L666.3,420.7 L669.3,420.6 L672.4,420.5 L675.4,420.4 L678.4,420.3 L681.4,420.2 L684.4,420.1 L687.4,420.1 L690.5,420.0 L693.5,420.0 L696.5,419.9 L699.5,419.9 L702.5,419.9 L705.5,419.9 L708.6,419.9 L711.6,419.9 L714.6,419.9 L717.6,420.0 L720.6,420.0 L723.6,420.0 L726.7,420.0 L729.7,420.0 L732.7,420.0 L735.7,419.9 L738.7,419.8 L741.8,419.7 L744.8,419.5 L747.8,419.3 L750.8,419.1 L753.8,418.9 L756.8,418.6 L759.9,418.4 L762.9,418.1 L765.9,417.9 L768.9,417.6 L771.9,417.4 L774.9,417.2 L778.0,416.9 L781.0,416.7 L784.0,416.6 L787.0,416.4 L790.0,416.3 L793.0,416.2 L796.1,416.2 L799.1,416.2 L802.1,416.3 L805.1,416.3 L808.1,416.5 L811.1,416.6 L814.2,416.8 L817.2,417.0 L820.2,417.2 L823.2,417.4 L826.2,417.7 L829.2,418.0 L832.3,418.2 L835.3,418.5 L838.3,418.8 L841.3,419.1 L844.3,419.3 L847.3,419.6 L850.4,419.8 L853.4,420.0 L856.4,420.2 L859.4,420.4 L862.4,420.5 L865.4,420.6 L868.5,420.6 L871.5,420.6 L874.5,420.6 L877.5,420.6 L880.5,420.5 L883.5,420.5 L886.6,420.4 L889.6,420.3 L892.6,420.1 L895.6,420.0 L898.6,419.9 L901.6,419.8 L904.7,419.7 L907.7,419.6 L910.7,419.5 L913.7,419.4 L916.7,419.3 L919.7,419.3 L922.8,419.3 L925.8,419.3 L928.8,419.3 L931.8,419.4 L934.8,419.5 L937.8,419.6 L940.9,419.7 L943.9,419.8 L946.9,420.0 L949.9,420.1 L952.9,420.3 L956.0,420.5 L959.0,420.7 L962.0,420.9 L965.0,421.1 L968.0,421.3 L971.0,421.5 L974.1,421.7 L977.1,421.9 L980.1,422.1 L983.1,422.3 L986.1,422.5 L989.1,422.7 L992.2,422.9 L995.2,423.1 L998.2,423.2 L1001.2,423.4 L1004.2,423.5 L1007.2,423.7 L1010.3,423.8 L1013.3,424.0 L1016.3,424.1 L1019.3,424.3 L1022.3,424.4 L1025.3,424.5 L1028.4,424.7 L1031.4,424.8 L1034.4,425.0 L1037.4,425.1 L1040.4,425.3 L1043.4,425.4 L1046.5,425.6 L1049.5,425.7 L1052.5,425.9 L1055.5,426.1 L1058.5,426.3 L1061.5,426.5 L1064.6,426.7 L1067.6,426.9 L1070.6,427.1 L1073.6,427.4 L1076.6,427.6 L1079.6,427.9 L1082.7,428.1 L1085.7,428.4 L1088.7,428.7 L1091.7,429.0 L1094.7,429.3 L1097.7,429.6 L1100.8,429.9 L1103.8,430.3 L1106.8,430.6 L1109.8,431.0 L1112.8,431.3 L1115.8,431.7 L1118.9,432.0 L1121.9,432.4 L1124.9,432.8 L1127.9,433.2 L1130.9,433.6 L1133.9,434.0 L1137.0,434.4 L1140.0,434.8 L1143.0,435.3 L1146.0,435.7 L1149.0,436.1 L1152.0,436.6 L1155.1,437.0 L1158.1,437.5 L1161.1,437.9 L1164.1,438.4 L1167.1,438.9 L1170.2,439.3 L1173.2,439.8 L1176.2,440.3 L1179.2,440.8 L1182.2,441.3 L1185.2,441.8 L1188.3,442.3 L1191.3,442.8 L1194.3,443.3 L1197.3,443.8 L1200.3,444.3 L1203.3,444.8 L1206.4,445.3 L1209.4,445.9 L1212.4,446.4 L1215.4,446.9 L1218.4,447.4 L1221.4,448.0 L1224.5,448.5 L1227.5,449.0 L1230.5,449.6 L1233.5,450.1 L1236.5,450.6 L1239.5,451.2 L1242.6,451.7 L1245.6,452.3 L1248.6,452.8 L1251.6,453.3 L1254.6,453.9 L1257.6,454.4 L1260.7,455.0 L1263.7,455.6 L1266.7,456.1 L1269.7,456.7 L1272.7,457.3 L1275.7,457.8 L1278.8,458.4 L1281.8,459.0 L1284.8,459.6 L1287.8,460.2 L1290.8,460.8 L1293.8,461.4 L1296.9,462.0 L1299.9,462.7 L1302.9,463.3 L1305.9,463.9 L1308.9,464.6 L1311.9,465.3 L1315.0,465.9 L1318.0,466.6 L1321.0,467.3 L1324.0,468.0 L1327.0,468.7 L1330.0,469.5 L1333.1,470.2 L1336.1,470.9 L1339.1,471.7 L1342.1,472.5 L1345.1,473.3 L1348.1,474.1 L1351.2,474.9 L1354.2,475.7 L1357.2,476.6 L1360.2,477.4 L1363.2,478.3 L1366.2,479.2 L1369.3,480.1 L1372.3,481.0 L1375.3,482.0 L1378.3,482.9 L1381.3,483.9 L1384.4,484.9 L1387.4,485.9 L1390.4,486.9 L1393.4,488.0 L1396.4,489.0 L1399.4,490.1 L1402.5,491.2 L1405.5,492.4 L1408.5,493.5 L1411.5,494.7 L1414.5,495.9 L1417.5,497.1 L1420.6,498.3 L1423.6,499.5 L1426.6,500.8 L1429.6,502.0 L1432.6,503.3 L1435.6,504.5 L1438.7,505.8 L1441.7,507.1 L1444.7,508.3 L1447.7,509.5 L1450.7,510.8 L1453.7,512.0 L1456.8,513.2 L1459.8,514.3 L1462.8,515.5 L1465.8,516.6 L1468.8,517.6 L1471.8,518.7 L1474.9,519.7 L1477.9,520.6 L1480.9,521.6 L1483.9,522.5 L1486.9,523.4 L1489.9,524.4 L1493.0,525.4 L1496.0,526.6 L1499.0,527.9 L1502.0,529.3 L1505.0,531.0 L1508.0,532.9" stroke="#ff0af0" stroke-dasharray="61.6 63.6"/>
</g>
<g fill="none" stroke-width="6.3" stroke-linecap="round">
<path d="M329.0,1042.5 H517.5" stroke="#ff0af0" stroke-dasharray="61.6 63.6"/>
<path d="M329.0,1130.5 H519.3" stroke="#9a00c8" stroke-dasharray="41.1 31.5 41.1 31.5 6.7 31.35 6.7 31.35"/>
<path d="M329.0,1218.8 H519.3" stroke="#00964a" stroke-dasharray="41.1 31.6 6.7 31.23"/>
<path d="M1114.2,1047.6 H1313.0" stroke="#ff6a0a" stroke-dasharray="41.8 41.62"/>
<path d="M1114.2,1135.8 H1303.0" stroke="#0800ee" stroke-dasharray="21.0 20.76"/>
<path d="M1114.2,1217.5 H1313.0" stroke="#000000"/>
</g>
<g font-family="'Liberation Sans', Arial, Helvetica, sans-serif" fill="#000">
<text transform="translate(240.8,109.7) scale(1,1.03)" font-size="69.2" text-anchor="end" stroke="#fff" stroke-width="0.5">1.0</text>
<text transform="translate(240.8,423.8) scale(1,1.03)" font-size="69.2" text-anchor="end" stroke="#fff" stroke-width="0.5">0.9</text>
<text transform="translate(240.8,737.9) scale(1,1.03)" font-size="69.2" text-anchor="end" stroke="#fff" stroke-width="0.5">0.8</text>
<text transform="translate(240.8,1051.9) scale(1,1.03)" font-size="69.2" text-anchor="end" stroke="#fff" stroke-width="0.5">0.7</text>
<text transform="translate(240.8,1366.0) scale(1,1.03)" font-size="69.2" text-anchor="end" stroke="#fff" stroke-width="0.5">0.6</text>
<text transform="translate(304.3,1466.4) scale(1,1.03)" font-size="69.2" text-anchor="middle" stroke="#fff" stroke-width="0.5">300</text>
<text transform="translate(555.1,1466.4) scale(1,1.03)" font-size="69.2" text-anchor="middle" stroke="#fff" stroke-width="0.5">400</text>
<text transform="translate(805.9,1466.4) scale(1,1.03)" font-size="69.2" text-anchor="middle" stroke="#fff" stroke-width="0.5">500</text>
<text transform="translate(1056.6,1466.4) scale(1,1.03)" font-size="69.2" text-anchor="middle" stroke="#fff" stroke-width="0.5">600</text>
<text transform="translate(1307.4,1466.4) scale(1,1.03)" font-size="69.2" text-anchor="middle" stroke="#fff" stroke-width="0.5">700</text>
<text transform="translate(1558.2,1466.4) scale(1,1.03)" font-size="69.2" text-anchor="middle" stroke="#fff" stroke-width="0.5">800</text>
<text x="907.0" y="1558.4" font-size="87" text-anchor="middle">wavelength (nm)</text>
<text transform="translate(100.2,710.5) rotate(-90)" font-size="87.1" text-anchor="middle">reflectance</text>
<text transform="translate(547.6,1069.8) scale(1,1.05)" font-size="57.5" stroke="#fff" stroke-width="0.5">250<tspan dx="0.7" dy="-22.2" font-size="46">o</tspan><tspan dx="1.3" dy="22.2" font-size="57.5">C</tspan></text>
<text transform="translate(547.6,1157.6) scale(1,1.05)" font-size="57.5" stroke="#fff" stroke-width="0.5">200<tspan dx="0.7" dy="-22.2" font-size="46">o</tspan><tspan dx="1.3" dy="22.2" font-size="57.5">C</tspan></text>
<text transform="translate(547.6,1245.4) scale(1,1.05)" font-size="57.5" stroke="#fff" stroke-width="0.5">150<tspan dx="0.7" dy="-22.2" font-size="46">o</tspan><tspan dx="1.3" dy="22.2" font-size="57.5">C+ann. 200</tspan><tspan dx="0.7" dy="-22.2" font-size="46">o</tspan><tspan dx="1.3" dy="22.2" font-size="57.5">C</tspan></text>
<text transform="translate(1333.5,1073.7) scale(1,1.05)" font-size="57.5" stroke="#fff" stroke-width="0.5">150<tspan dx="0.7" dy="-22.2" font-size="46">o</tspan><tspan dx="1.3" dy="22.2" font-size="57.5">C</tspan></text>
<text transform="translate(1333.5,1161.9) scale(1,1.05)" font-size="57.5" stroke="#fff" stroke-width="0.5">100<tspan dx="0.7" dy="-22.2" font-size="46">o</tspan><tspan dx="1.3" dy="22.2" font-size="57.5">C</tspan></text>
<text transform="translate(1334.5,1237.9) scale(1,1.05)" font-size="57.5" stroke="#fff" stroke-width="0.5">RT</text>
</g>
<g font-family="'Liberation Serif', 'Times New Roman', Times, serif" fill="#000">
<text x="757.5" y="264.1" font-size="88" font-weight="bold">1 year</text>
</g>
<path d="M759.5,275.2 H989.2" stroke="#000" stroke-width="7.2" stroke-linecap="round" fill="none"/>
</svg>
</body>
</html>
